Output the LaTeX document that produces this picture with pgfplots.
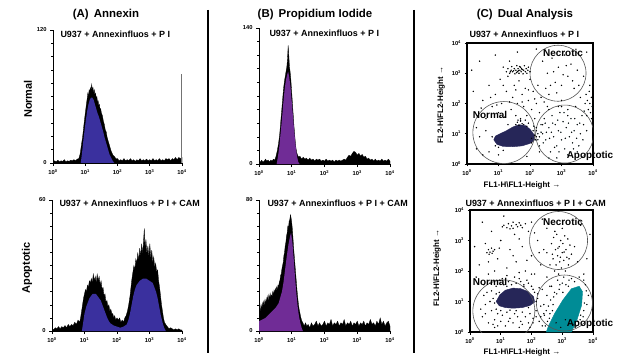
\documentclass[border=0pt]{standalone}
\usepackage{pgfplots}
\pgfplotsset{compat=1.18}
\usepackage{fontspec}
\setmainfont{Liberation Sans}
\definecolor{annblue}{RGB}{58,48,158}
\definecolor{pipurple}{RGB}{112,44,150}
\definecolor{navyblob}{RGB}{38,38,88}
\definecolor{tealblob}{RGB}{0,140,150}
\definecolor{lcyan}{RGB}{130,205,215}
\definecolor{dotgray}{RGB}{100,100,100}
\definecolor{darkgreen}{RGB}{40,70,55}
\definecolor{tealdot}{RGB}{40,130,130}
\definecolor{gatec}{RGB}{85,85,85}
\newcommand{\tl}{\fontsize{5.8}{6}\selectfont\bfseries}
\pgfplotsset{
  hist/.style={scale only axis, anchor=south west, xmin=0, xmax=4, ymin=0,
    axis x line=bottom, axis y line=left, axis line style={-, line width=0.8pt},
    tick align=outside, major tick length=3bp, minor tick length=2bp,
    xtick={0,1,2,3,4},
    xticklabels={10\textsuperscript{0},10\textsuperscript{1},10\textsuperscript{2},10\textsuperscript{3},10\textsuperscript{4}},
    minor y tick num=9,
    tick style={line width=0.6pt, black},
    ticklabel style={font=\tl},
    /pgf/number format/assume math mode=true},
  scat/.style={scale only axis, anchor=south west, xmin=0, xmax=4, ymin=0, ymax=4,
    axis line style={line width=1.1pt},
    xtick={0,1,2,3,4}, ytick={0,1,2,3,4}, xtick pos=left, ytick pos=left,
    tick align=outside, major tick length=2.5bp,
    tick style={line width=0.6pt, black},
    xticklabels={10\textsuperscript{0},10\textsuperscript{1},10\textsuperscript{2},10\textsuperscript{3},10\textsuperscript{4}},
    yticklabels={10\textsuperscript{0},10\textsuperscript{1},10\textsuperscript{2},10\textsuperscript{3},10\textsuperscript{4}},
    ticklabel style={font=\tl},
    /pgf/number format/assume math mode=true},
  dots/.style={only marks, mark=*, mark size=0.5pt, mark options={draw=none, fill=#1}},
}
\begin{document}
\begin{tikzpicture}[x=1bp,y=1bp]
\fill[white] (0,0) rectangle (640,363);
\useasboundingbox (0,0) rectangle (640,363);

% dividers
\draw[line width=1.8bp] (208,353) -- (208,10);
\draw[line width=1.8bp] (414,353) -- (414,10);

% titles
\node[font=\fontsize{11.5}{13}\selectfont\bfseries] at (106,348) {(A)\hspace{0.45em}Annexin};
\node[font=\fontsize{11.5}{13}\selectfont\bfseries] at (315,348) {(B)\hspace{0.45em}Propidium Iodide};
\node[font=\fontsize{11.5}{13}\selectfont\bfseries] at (525,348) {(C)\hspace{0.45em}Dual Analysis};
\node[font=\fontsize{11}{13}\selectfont\bfseries, rotate=90] at (28,264) {Normal};
\node[font=\fontsize{11}{13}\selectfont\bfseries, rotate=90] at (27,95) {Apoptotic};

% ---------- A top ----------
\begin{axis}[hist, at={(53bp,200bp)}, width=129bp, height=133bp, ymax=120, ytick={0,120}, yticklabels={0,120}]
\addplot[fill=black, draw=black, line width=0.3pt] coordinates {(0,1) (0.05,2) (0.1,1) (0.15,2.5) (0.2,1) (0.25,2) (0.3,1.5) (0.35,3) (0.4,1) (0.45,2) (0.5,1.5) (0.55,2.5) (0.6,2) (0.65,3) (0.7,2) (0.75,3.5) (0.8,4) (0.84,8) (0.88,16) (0.92,24) (0.95,32) (0.98,40) (1.01,47) (1.04,54) (1.06,58) (1.08,63) (1.1,60) (1.12,66) (1.14,64) (1.16,68) (1.18,65) (1.2,71) (1.22,66) (1.24,68) (1.26,63) (1.28,66) (1.3,61) (1.32,63) (1.34,58) (1.36,60) (1.38,55) (1.4,56) (1.42,52) (1.44,53) (1.46,48) (1.48,49) (1.5,45) (1.53,43) (1.56,38) (1.59,35) (1.62,30) (1.65,28) (1.68,23) (1.71,20) (1.74,17) (1.77,14) (1.8,11) (1.83,9) (1.86,7) (1.9,6) (1.95,4) (2,4) (2.05,2) (2.1,3) (2.15,2) (2.2,4) (2.25,2) (2.3,3) (2.35,2) (2.4,4) (2.45,2) (2.5,3) (2.55,1.5) (2.6,3) (2.65,2) (2.7,4) (2.75,2) (2.8,3) (2.85,2) (2.9,3.5) (2.95,2) (3,3) (3.05,2) (3.1,4) (3.15,2) (3.2,3) (3.25,2) (3.3,4) (3.35,2) (3.4,3) (3.45,2) (3.5,4) (3.55,3) (3.6,4) (3.65,2) (3.7,4) (3.75,3) (3.8,5) (3.85,3) (3.9,5) (3.95,4) (4,5)} \closedcycle;
\addplot[fill=annblue, draw=none] coordinates {(0.86,0) (0.9,9) (0.94,20) (0.98,30) (1.02,39) (1.06,47) (1.1,53) (1.14,57) (1.18,59) (1.22,59) (1.26,57) (1.3,53) (1.34,49) (1.38,45) (1.42,42) (1.46,38) (1.5,34) (1.55,29) (1.6,23) (1.65,18) (1.7,13) (1.75,8) (1.8,5) (1.85,2) (1.9,0)} \closedcycle;
\addplot[black!55, line width=0.6pt] coordinates {(3.985,0) (3.985,80)};
\end{axis}

% ---------- B top ----------
\begin{axis}[hist, at={(259bp,199bp)}, width=131bp, height=136bp, ymax=140, ytick={0,140}, yticklabels={0,140}]
\addplot[fill=black, draw=black, line width=0.3pt] coordinates {(0,3) (0.04,2) (0.08,4) (0.12,2) (0.16,3) (0.2,5) (0.24,3) (0.28,4) (0.32,2) (0.36,4) (0.4,3) (0.44,5) (0.48,4) (0.52,8) (0.56,14) (0.6,22) (0.63,30) (0.66,42) (0.69,54) (0.72,66) (0.75,78) (0.78,86) (0.81,92) (0.83,96) (0.85,100) (0.87,108) (0.89,122) (0.91,112) (0.93,100) (0.95,95) (0.97,88) (0.99,78) (1.01,68) (1.03,58) (1.05,48) (1.07,38) (1.09,30) (1.11,22) (1.13,16) (1.15,12) (1.18,9) (1.21,7) (1.25,8) (1.3,5) (1.35,7) (1.4,5) (1.45,6) (1.5,4) (1.55,6) (1.6,4) (1.65,5) (1.7,3) (1.75,5) (1.8,4) (1.85,5) (1.9,3) (1.95,4) (2,3) (2.05,5) (2.1,3) (2.15,4) (2.2,3) (2.25,4) (2.3,2) (2.35,4) (2.4,3) (2.45,4) (2.5,3) (2.55,4) (2.6,5) (2.65,4) (2.7,7) (2.75,9) (2.8,8) (2.85,11) (2.9,13) (2.95,12) (3,9) (3.05,11) (3.1,8) (3.15,10) (3.2,7) (3.25,8) (3.3,5) (3.35,6) (3.4,4) (3.45,5) (3.5,3) (3.55,5) (3.6,3) (3.65,4) (3.7,3) (3.75,5) (3.8,3) (3.85,4) (3.9,3) (3.95,5) (4,3)} \closedcycle;
\addplot[fill=pipurple, draw=none] coordinates {(0.54,0) (0.58,8) (0.62,18) (0.66,32) (0.7,46) (0.74,62) (0.78,76) (0.82,86) (0.86,92) (0.89,95) (0.92,90) (0.96,80) (1,64) (1.04,48) (1.08,32) (1.12,18) (1.16,8) (1.2,2) (1.24,0)} \closedcycle;
\end{axis}

% ---------- A bottom ----------
\begin{axis}[hist, at={(52bp,32bp)}, width=130bp, height=131bp, ymax=60, ytick={0,60}, yticklabels={0,60}]
\addplot[fill=black, draw=black, line width=0.3pt] coordinates {(0,1) (0.05,0.5) (0.1,1.5) (0.15,1) (0.2,2) (0.25,1) (0.3,2) (0.35,1.5) (0.4,2.5) (0.45,1.5) (0.5,3) (0.55,2) (0.6,3) (0.65,2.5) (0.7,4) (0.75,3) (0.8,5) (0.85,4) (0.88,6) (0.91,9) (0.94,12) (0.97,15) (1,17) (1.03,19) (1.06,18) (1.09,21) (1.12,20) (1.15,23) (1.18,22) (1.21,24) (1.24,22) (1.27,26) (1.3,23) (1.33,25) (1.36,22) (1.39,26) (1.42,23) (1.45,25) (1.48,21) (1.51,23) (1.54,19) (1.57,20) (1.6,16) (1.63,17) (1.66,13) (1.69,14) (1.72,11) (1.75,12) (1.78,9) (1.81,10) (1.84,8) (1.87,8) (1.9,6) (1.93,7) (1.96,5) (2,6) (2.04,5) (2.08,6) (2.12,4) (2.16,5) (2.2,4) (2.24,6) (2.28,7) (2.32,9) (2.36,12) (2.4,16) (2.43,20) (2.46,24) (2.49,27) (2.52,30) (2.55,28) (2.58,33) (2.61,31) (2.64,36) (2.67,32) (2.7,38) (2.73,34) (2.76,40) (2.79,35) (2.82,42) (2.84,47) (2.86,38) (2.89,42) (2.92,35) (2.95,39) (2.98,34) (3.01,40) (3.04,33) (3.07,37) (3.1,31) (3.13,34) (3.16,29) (3.19,31) (3.22,27) (3.25,28) (3.28,23) (3.31,20) (3.34,16) (3.37,12) (3.4,9) (3.43,6) (3.46,4) (3.5,3) (3.55,2) (3.6,1) (3.65,1.5) (3.7,1) (3.75,0.5) (3.8,1) (3.85,0.5) (3.9,1) (3.95,0.5) (4,0.5)} \closedcycle;
\addplot[fill=annblue, draw=none] coordinates {(0.92,0) (0.96,4) (1,8) (1.05,11) (1.1,13) (1.15,15) (1.2,16) (1.25,17) (1.3,17) (1.35,17) (1.4,16) (1.45,15) (1.5,14) (1.55,12) (1.6,10) (1.65,8) (1.7,6) (1.75,4.5) (1.8,3.5) (1.85,3) (1.9,2.5) (2,2) (2.1,1.5) (2.2,2) (2.3,3) (2.35,5) (2.4,8) (2.45,12) (2.5,16) (2.55,19) (2.6,21) (2.7,23) (2.8,24) (2.9,24) (3,23) (3.1,22) (3.15,20) (3.2,18) (3.25,15) (3.3,11) (3.35,7) (3.4,4) (3.45,1.5) (3.5,0)} \closedcycle;
\end{axis}

% ---------- B bottom ----------
\begin{axis}[hist, at={(259bp,32bp)}, width=131bp, height=131bp, ymax=80, ytick={0,80}, yticklabels={0,80}]
\addplot[fill=black, draw=black, line width=0.3pt] coordinates {(0,12) (0.02,15) (0.04,11) (0.06,16) (0.08,13) (0.1,17) (0.12,14) (0.14,18) (0.16,15) (0.18,19) (0.2,16) (0.22,20) (0.24,17) (0.26,21) (0.28,18) (0.3,22) (0.32,19) (0.34,23) (0.36,20) (0.38,22) (0.4,21) (0.42,24) (0.44,22) (0.46,25) (0.48,23) (0.5,26) (0.52,24) (0.54,27) (0.56,25) (0.58,28) (0.6,27) (0.62,30) (0.64,31) (0.66,34) (0.68,35) (0.7,38) (0.72,40) (0.74,42) (0.76,46) (0.78,48) (0.8,52) (0.82,54) (0.84,58) (0.86,60) (0.88,64) (0.9,63) (0.92,67) (0.94,68) (0.96,71) (0.98,69) (1,66) (1.02,62) (1.04,56) (1.06,50) (1.08,45) (1.1,40) (1.12,35) (1.14,30) (1.16,25) (1.18,21) (1.2,17) (1.22,14) (1.25,11) (1.28,8) (1.31,6) (1.34,5) (1.38,3) (1.42,5) (1.46,3) (1.5,4) (1.55,2) (1.6,5) (1.65,3) (1.7,4) (1.75,6) (1.8,3) (1.85,5) (1.9,3) (1.95,4) (2,6) (2.05,3) (2.1,5) (2.15,4) (2.2,7) (2.25,3) (2.3,5) (2.35,4) (2.4,6) (2.45,3) (2.5,5) (2.55,4) (2.6,7) (2.65,3) (2.7,5) (2.75,4) (2.8,6) (2.85,3) (2.9,5) (2.95,4) (3,6) (3.05,3) (3.1,5) (3.15,4) (3.2,6) (3.25,3) (3.3,5) (3.35,4) (3.4,7) (3.45,4) (3.5,5) (3.55,3) (3.6,6) (3.65,4) (3.7,8) (3.75,4) (3.8,6) (3.85,3) (3.9,5) (3.95,6) (4,3)} \closedcycle;
\addplot[fill=pipurple, draw=none] coordinates {(0,6) (0.1,7) (0.2,8) (0.3,10) (0.4,12) (0.5,14) (0.6,17) (0.7,24) (0.75,30) (0.8,38) (0.85,46) (0.9,53) (0.95,58) (0.98,60) (1.02,54) (1.06,44) (1.1,33) (1.14,23) (1.18,15) (1.22,9) (1.26,5) (1.3,2) (1.34,0)} \closedcycle;
\end{axis}

% ---------- C top ----------
\begin{axis}[scat, at={(467bp,199bp)}, width=126bp, height=121bp]
\addplot[dots=lcyan] coordinates {(2.3,0.6) (2.4,1) (2.45,1.5) (2.5,0.8) (2.6,1.2) (2.65,0.4) (2.7,1.6) (2.75,0.9) (2.8,1.3) (2.85,0.6) (2.9,1.1) (2.95,1.7) (3,0.8) (3.05,1.4) (3.1,0.5) (3.15,1.2) (3.2,1.8) (3.25,0.9) (3.3,1.5) (3.35,0.7) (3.4,1.1) (3.45,1.9) (3.5,1.3) (3.55,0.6) (3.6,1) (3.65,1.6) (3.7,1.3) (3.75,2) (3.8,1.1) (2.55,1.9) (2.35,1.3) (2.2,1.1) (2.25,0.8) (2.85,0.2) (3.2,0.3) (3.5,0.4) (3,1.9) (2.6,0.2) (2.42,0.7) (2.52,1.05) (2.62,0.85) (2.72,1.35) (2.78,0.55) (2.88,1.45) (2.98,1.05) (3.08,1.7) (3.12,0.85) (3.22,1.35) (3.32,1.05) (3.42,1.5) (3.48,0.85) (3.58,1.35) (3.68,0.8) (3.72,1.75) (2.48,1.35) (2.68,1.05) (2.92,0.4) (3.38,0.5)};
\addplot[dots=dotgray] coordinates {(0.35,1.6) (0.5,2.1) (0.6,1.5) (0.7,2.6) (0.8,1.9) (0.9,2.3) (1,1.7) (1.05,2.8) (1.1,2) (1.2,1.55) (1.25,2.4) (1.3,2.9) (1.4,1.8) (1.45,2.2) (1.5,2.6) (1.55,1.6) (1.6,2) (1.65,2.75) (1.7,1.45) (1.75,2.3) (1.8,1.9) (1.85,2.5) (1.9,1.6) (1.95,2.1) (2,2.8) (2.05,1.8) (2.1,2.4) (2.15,1.5) (2.2,2) (2.25,2.6) (2.3,1.7) (2.35,2.2) (2.4,3.4) (2.5,2.5) (2.55,3) (2.6,2.3) (2.7,3.5) (2.8,2.7) (2.9,3.2) (3,2.6) (3.1,3.6) (3.2,2.9) (3.3,3.3) (3.4,2.5) (3.5,3.1) (3.6,2.2) (0.3,0.5) (0.5,0.3) (0.6,1.1) (0.4,0.9) (0.7,0.4) (2.3,0.4) (2.2,0.9) (2.4,1.3) (0.15,3.1) (0.4,3.4) (0.9,3.6) (1.6,3.7) (2.2,3.8) (3.8,3.7) (0.2,2.4) (0.3,1.2) (1,0.3) (1.9,0.25) (2.6,1.8) (2.9,1.9) (3,2.1) (3.2,1.6) (1.15,3.2) (1.35,3.4) (0.45,1.85) (0.75,2.2) (0.95,1.95) (1.15,2.6) (1.35,2.05) (1.55,2.45) (1.75,2.05) (1.95,2.45) (2.15,2.15) (2.45,2.05) (2.65,2.6) (2.85,2.35) (3.05,2.95) (3.35,2.75) (3.55,2.6) (3.7,2.9) (2.75,3.05) (3.15,3.25)};
\addplot[dots=darkgreen] coordinates {(1.25,3.05) (1.3,3.15) (1.35,3) (1.4,3.1) (1.42,3.22) (1.45,3.05) (1.5,3.15) (1.52,2.98) (1.55,3.1) (1.58,3.25) (1.6,3.05) (1.62,3.15) (1.65,3) (1.68,3.1) (1.7,3.2) (1.72,3.05) (1.75,3.12) (1.78,2.98) (1.8,3.1) (1.82,3.25) (1.85,3.05) (1.88,3.15) (1.9,3) (1.93,3.1) (1.48,3.08) (1.63,3.08) (1.73,3.15) (1.57,3.02) (1.67,3.22) (1.38,3.05) (1.95,3.2) (2,3.05)};
\addplot[dots=tealdot] coordinates {(3.8,1.6) (3.85,1.8) (3.9,2) (3.95,2.2) (3.88,2.4) (3.92,1.7) (3.82,2.1) (3.97,1.9) (3.9,2.6) (3.78,2.3) (3.95,1.5) (2.05,0.85) (2.1,1.1) (2.15,0.95) (2.2,1.2) (2.25,1) (2.3,0.9) (2.12,1.25) (2.35,1.05) (2.18,0.8)};
\addplot[dots=navyblob] coordinates {(1.55,1.3) (1.6,1.38) (1.65,1.28) (1.7,1.42) (1.75,1.33) (1.8,1.3) (1.85,1.45) (1.9,1.25) (1.7,1.5) (1.62,1.45) (1.95,1.35) (1,0.55) (0.9,0.6) (1.15,0.45) (0.8,0.9) (2.05,0.7) (1.3,1.3)};
\addplot[fill=navyblob, draw=navyblob, line width=0.4pt] coordinates {(0.85,0.8) (0.95,0.65) (1.15,0.58) (1.45,0.57) (1.75,0.6) (2,0.68) (2.15,0.8) (2.12,0.98) (2,1.15) (1.85,1.27) (1.65,1.3) (1.45,1.22) (1.25,1.1) (1.05,1) (0.9,0.92)} -- cycle;
\draw[gatec, line width=0.6pt] (axis cs:1.17,1.04) circle [radius=31bp];
\draw[gatec, line width=0.6pt] (axis cs:3.1,0.99) circle [radius=29bp];
\draw[gatec, line width=0.6pt] (axis cs:2.89,3.0) circle [radius=28bp];
\end{axis}

% ---------- C bottom ----------
\begin{axis}[scat, at={(470bp,31bp)}, width=123bp, height=122bp]
\addplot[dots=lcyan] coordinates {(2.3,0.5) (2.4,0.9) (2.45,0.2) (2.5,1.2) (2.6,0.6) (2.65,1.5) (2.7,0.9) (2.75,1.3) (2.8,0.3) (2.85,1.7) (2.9,1.4) (3,1.6) (3.05,1.8) (3.1,0.4) (3.2,1.5) (3.3,1.75) (3.35,0.25) (3.5,0.35) (3.6,0.55) (3.7,0.7) (3.75,1.55) (3.8,0.9) (3.85,1.2) (3.4,1.65) (2.55,0.85) (2.35,1.4) (2.95,0.15) (3.55,1.8) (2.42,0.55) (2.52,0.35) (2.62,1.05) (2.72,1.15) (2.82,1.25) (2.92,1.55) (3.02,1.3) (3.12,1.55) (3.22,1.7) (3.45,0.2) (3.58,0.4) (3.68,0.5) (3.72,0.95) (3.78,1.35) (3.7,1.7) (2.48,0.7) (2.58,0.45) (2.68,0.7)};
\addplot[dots=dotgray] coordinates {(0.4,0.5) (0.5,0.9) (0.55,1.3) (0.6,0.3) (0.65,1.6) (0.7,0.7) (0.75,1.1) (0.8,0.4) (0.85,1.5) (0.9,0.6) (0.95,1.7) (1,0.35) (1.05,0.55) (1.1,1.55) (1.15,0.2) (1.2,0.65) (1.25,1.65) (1.3,0.45) (1.35,1.55) (1.4,0.3) (1.45,0.6) (1.5,1.6) (1.55,0.5) (1.6,1.75) (1.65,0.35) (1.7,0.65) (1.75,1.55) (1.8,0.5) (1.85,1.7) (1.9,0.3) (1.95,0.6) (2,1.5) (2.05,0.45) (2.1,1.3) (2.15,0.7) (2.2,1.1) (2.25,0.35) (2.3,0.85) (0.45,1.2) (0.35,0.75) (0.6,1.9) (0.9,0.2) (1.2,1.85) (1.6,0.15) (2,1.9) (0.7,1.35) (0.8,0.15) (1.95,0.15) (2.35,0.2) (2.4,0.6) (0.3,2.2) (0.5,2.9) (0.7,3.3) (0.9,2.4) (1,3) (1.2,2.1) (1.3,2.7) (1.45,3.2) (1.5,2.3) (1.7,2.8) (1.8,2) (1.9,3.3) (2,2.5) (2.1,1.9) (2.2,3) (2.3,2.2) (2.4,2.7) (2.5,1.8) (2.5,3.4) (2.35,3.7) (1.1,3.8) (0.4,3.6) (0.2,1.8) (0.6,2.3) (1.6,1.95) (2.6,1.5) (0.15,2.8) (1.4,3.6) (2,3.6) (0.8,2) (3.6,3.5) (3.8,2.4) (3.7,1.9) (3.9,3.2) (1.05,3.45) (1.1,3.5) (1.2,3.42) (1.25,3.55) (1.35,3.48) (1.4,3.4) (1.5,3.52) (1.55,3.45) (1.65,3.5) (1.7,3.42) (1.8,3.55) (1.3,3.38) (1.6,3.58) (0.55,2.6) (0.6,2.7) (0.65,2.62) (0.7,2.75) (0.75,2.65) (0.62,2.55) (0.72,2.58) (0.8,2.7) (0.5,0.6) (0.65,1.0) (0.75,0.25) (1.05,1.75) (1.25,0.35) (1.45,1.8) (1.7,0.25) (1.9,1.6) (2.15,0.5) (2.25,1.45) (0.45,1.55) (0.85,0.75) (1.65,1.65) (2.05,0.3) (1.4,2.5) (1.85,2.35) (2.25,2.6) (0.95,2.75) (2.1,3.25) (1.6,3.05)};
\addplot[dots=black!75] coordinates {(2.65,2.9) (2.7,2.4) (2.72,3.1) (2.75,2) (2.78,2.7) (2.8,2.2) (2.82,3.2) (2.85,2.5) (2.88,1.9) (2.9,2.8) (2.92,2.3) (2.95,3) (2.97,2.1) (3,2.6) (3.02,2.9) (3.05,2.35) (3.08,3.15) (3.1,2) (3.12,2.7) (3.15,2.45) (3.18,3.05) (3.2,2.2) (3.25,2.85) (3.3,2.55) (2.6,2.2) (2.68,2.55) (2.86,2.75) (2.94,2.45) (3.06,2.62) (3.22,2.4) (2.76,3.3) (3,3.4) (3.4,2.8) (3.5,2.3) (2.5,2.6)};
\addplot[dots=navyblob] coordinates {(0.8,0.95) (0.85,1.25) (1,0.7) (1.2,1.5) (1.5,0.7) (1.9,0.8) (2.15,1) (2.2,1.25) (1.75,1.5) (0.95,1.3) (1.3,0.72) (2.05,1.4)};
\addplot[fill=navyblob, draw=navyblob, line width=0.4pt] coordinates {(0.85,1) (0.95,0.86) (1.15,0.8) (1.4,0.78) (1.7,0.8) (1.95,0.87) (2.1,0.98) (2.07,1.15) (1.9,1.32) (1.65,1.42) (1.4,1.44) (1.15,1.37) (0.97,1.22)} -- cycle;
\addplot[fill=tealblob, draw=tealblob, line width=0.4pt] coordinates {(2.48,0) (3.3,0) (3.48,0.4) (3.63,0.88) (3.66,1.32) (3.55,1.5) (3.3,1.42) (3.02,1.05) (2.76,0.62) (2.56,0.22)} -- cycle;
\draw[gatec, line width=0.6pt] (axis cs:1.1,0.69) circle [radius=31bp];
\draw[gatec, line width=0.6pt] (axis cs:3.07,0.95) circle [radius=28bp];
\draw[gatec, line width=0.6pt] (axis cs:2.88,3.0) circle [radius=29bp];
\end{axis}

% subtitles
\node[anchor=west, font=\fontsize{9}{10}\selectfont\bfseries] at (57,329) {U937 + Annexinfluos + P I};
\node[anchor=west, font=\fontsize{9}{10}\selectfont\bfseries] at (266,330) {U937 + Annexinfluos + P I};
\node[anchor=west, font=\fontsize{9}{10}\selectfont\bfseries] at (466,329) {U937 + Annexinfluos + P I};
\node[anchor=west, font=\fontsize{9}{10}\selectfont\bfseries] at (56,160) {U937 + Annexinfluos + P I + CAM};
\node[anchor=west, font=\fontsize{9}{10}\selectfont\bfseries] at (264,160) {U937 + Annexinfluos + P I + CAM};
\node[anchor=west, font=\fontsize{9}{10}\selectfont\bfseries] at (462,160) {U937 + Annexinfluos + P I + CAM};

% C labels
\node[font=\fontsize{8}{9}\selectfont\bfseries] at (522,178) {FL1-H\textbackslash FL1-Height →};
\node[font=\fontsize{8}{9}\selectfont\bfseries] at (522,11) {FL1-H\textbackslash FL1-Height →};
\node[font=\fontsize{8}{9}\selectfont\bfseries, rotate=90] at (441,258) {FL2-H\textbackslash FL2-Height →};
\node[font=\fontsize{8}{9}\selectfont\bfseries, rotate=90] at (437,95) {FL2-H\textbackslash FL2-Height →};
\node[font=\fontsize{10}{11}\selectfont\bfseries] at (563,310) {Necrotic};
\node[font=\fontsize{10}{11}\selectfont\bfseries] at (490,248) {Normal};
\node[font=\fontsize{10}{11}\selectfont\bfseries] at (590,207) {Apoptotic};
\node[font=\fontsize{10}{11}\selectfont\bfseries] at (563,141) {Necrotic};
\node[font=\fontsize{10}{11}\selectfont\bfseries] at (490,81) {Normal};
\node[font=\fontsize{10}{11}\selectfont\bfseries] at (590,39) {Apoptotic};
\end{tikzpicture}
\end{document}
